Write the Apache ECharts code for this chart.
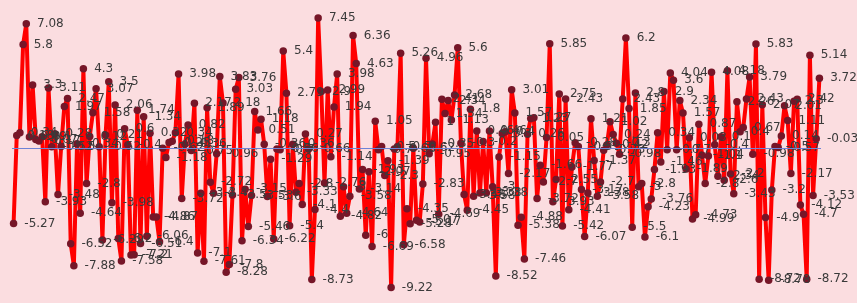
<!DOCTYPE html>
<html>
<head>
<meta charset="utf-8">
<script src="https://cdn.jsdelivr.net/npm/echarts@6/dist/echarts.min.js"></script>
<style>
html,body{margin:0;padding:0;background:#fbdde0;}
#c{width:857px;height:303px;}
</style>
</head>
<body>
<div id="c"></div>
<script>
const valuesA = [-5.27,0.18,0.34,5.8,7.08,0.09,3.3,-0.07,-0.17,0.1,-3.93,3.11,-0.52,0.28,-3.48,-0.5,1.97,2.47,-6.52,-7.88,-0.34,-4.64,4.3,-2.8,0.12,1.58,3.07,-0.52,-6.29,0.21,3.5,-3.98,2.06,-6.2,-7.58,0.6,-0.4,-7.21,-7.2,1.74,-6.51,1.34,-6.06,0.32,-4.86,-4.87,-6.4,-0.62,-1.18,-0.25,-0.18,0.34,3.98,-3.72,-0.36,0.82,-0.75,2.17,-7.1];
const valuesB = [-3.4,-7.61,1.89,-2.72,-3.4,-0.96,3.83,2.18,-8.28,-7.8,-3.5,3.03,3.76,-6.34,-3.15,-5.46,-3.53,1.66,0.51,1.18,-0.36,-3.6,-1.29,-6.22,-0.66,-0.7,5.4,2.79,-5.4,-0.36,-3.33,-2.8,-4.1,0.27,-0.66,-8.73,-4.4,7.45,2.9,-2.76,2.99,-1.14,1.94,3.98,-4.82,-3.0,-4.64,-3.58,6.36,4.63,-3.14,-1.93,-6.0,-2.07,-6.69,1.05,-0.7,-0.5,-2.3,-1.39,-9.22,-0.66,-0.5,5.26,-6.58,-4.35,-5.28,-0.62];
const valuesC = [-5.07,-5.17,-2.83,4.96,-0.95,-0.35,1,-4.69,2.41,1.54,2.34,1.13,2.68,5.6,-0.3,-3.48,-4.45,1.8,-3.58,0.46,-3.38,-0.2,-3.38,0.46,-3.0,-8.52,-1.15,0.3,0.4,-2.17,3.01,1.57,-5.38,-4.88,-7.46,0.26,1.23,1.27,-3.72,-1.66,-2.7,0.05,5.85,-3.93,-2.55,2.75,-5.42,2.43,-4.41,-1.77,-0.28,-0.5,-3.17,-6.07,-3.38,1.21,-1.37,-3.58,-2.7,-0.73,-0.42,1.02,0.24,-0.3,-0.98,2.43,6.2,1.85,-5.5,2.8,-3.0,-2.8];
const valuesD = [-6.1,-4.23,-3.76,-1.93,0.34,-1.46,2.9,-0.7,4.04,3.6,-0.7,2.34,1.57,-1.89,0.03,-4.99,-4.73,0.87,-1.04,-2.8,-1.1,4.08,-0.4,-2.34,0.1,-2.6,4.18,-2.2,-3.43,2.26,0.4,0.67,2.43,3.79,-0.98,5.83,-8.72,2.07,-4.9,-8.78,-3.2,-0.5,-0.57,0.14,2.01,1.11,-2.17,2.3,2.42,-4.12,-4.7,-8.72,5.14,-3.53,-0.03,3.72];
const values = valuesA.concat(valuesB, valuesC, valuesD);
const categories = values.map((v, i) => String(i + 1));
const yTicks = {min: -10, max: 8, interval: 2};
const refLine = -0.6;

const chart = echarts.init(document.getElementById('c'), null, {renderer: 'canvas'});
chart.setOption({
  backgroundColor: '#fbdde0',
  animation: false,
  grid: {left: 12, right: 36, top: 9, bottom: 3, containLabel: false, outerBoundsMode: 'none'},
  xAxis: {
    type: 'category',
    data: categories,
    show: false
  },
  yAxis: {
    type: 'value',
    min: yTicks.min, max: yTicks.max, interval: yTicks.interval,
    axisLine: {show: false},
    axisTick: {show: false},
    splitLine: {show: false},
    axisLabel: {color: '#7a86b8', fontSize: 12, margin: 15}
  },
  series: [{
    type: 'line',
    data: values,
    symbol: 'circle',
    symbolSize: 7.5,
    showAllSymbol: true,
    lineStyle: {color: '#ff0000', width: 4},
    itemStyle: {color: '#761628'},
    label: {
      show: true,
      position: 'right',
      distance: 7,
      color: '#3a3a3a',
      fontSize: 12,
      fontFamily: 'DejaVu Sans'
    },
    markLine: {
      silent: true,
      symbol: 'none',
      label: {show: false},
      lineStyle: {color: '#6f83d6', width: 1, type: 'solid'},
      data: [{yAxis: refLine}]
    }
  }]
});
</script>
</body>
</html>
